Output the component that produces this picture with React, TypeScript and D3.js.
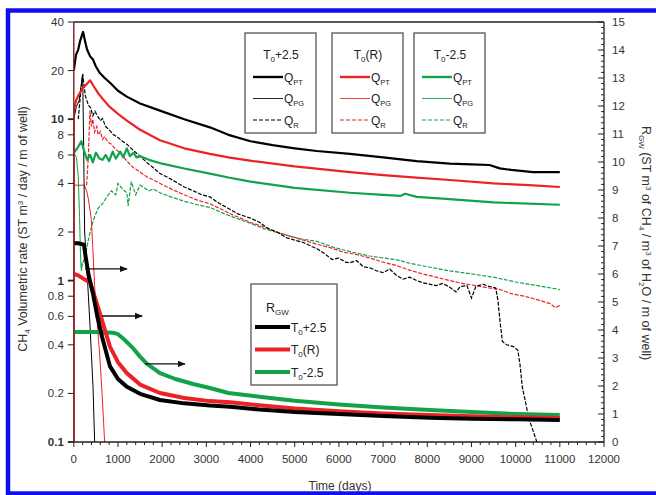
import React from "react";
import * as d3 from "d3";

type P = [number, number];

// ---- axis ticks ----
const LEFT_TICKS = [0.1, 0.2, 0.4, 0.6, 0.8, 1, 2, 4, 6, 8, 10, 20, 40];
const BOLD_TICKS = [0.1, 1, 10];
const X_MAJOR = d3.range(0, 12001, 1000);
const X_MINOR = d3.range(0, 12001, 200);
const R_MAJOR = d3.range(0, 16, 1);
const R_MINOR = d3.range(0, 15.01, 0.2);

// ---- T0+2.5 (black) ----
const warmQPT: P[] = [[0, 20], [50, 25], [100, 27], [150, 31], [210, 34.7], [260, 30], [300, 27], [370, 24.5], [435, 23.4], [500, 21.2], [590, 19.3], [700, 18], [820, 16.8], [1000, 15], [1200, 13.8], [1500, 12.5], [1950, 11.3], [2500, 10], [3080, 8.9], [3500, 8.0], [4000, 7.3], [4500, 6.9], [5000, 6.6], [5500, 6.35], [6250, 6.1], [7000, 5.8], [7760, 5.5], [8510, 5.3], [9000, 5.25], [9410, 5.2], [9640, 4.96], [9900, 4.85], [10390, 4.7], [11000, 4.7]];
const warmQPG: P[] = [[0, 10], [60, 12], [120, 13], [200, 19], [220, 8], [245, 2.0], [275, 1.5], [320, 0.9], [360, 0.57], [435, 0.22], [472, 0.1], [490, 0.08]];
const warmQR: P[] = [[100, 10], [150, 14], [200, 19], [260, 14], [330, 12.2], [380, 11.8], [430, 10.5], [480, 11.2], [525, 10.6], [600, 9.8], [650, 10.1], [720, 9.0], [800, 8.6], [900, 8.0], [1000, 7.7], [1100, 7.3], [1200, 7.0], [1350, 6.4], [1500, 5.9], [1650, 5.4], [1800, 5.0], [1950, 4.6], [2100, 4.4], [2300, 4.1], [2500, 3.8], [2700, 3.6], [2900, 3.4], [3080, 3.3], [3300, 3.0], [3500, 2.8], [3700, 2.6], [3990, 2.44], [4200, 2.3], [4400, 2.1], [4600, 2.0], [4800, 1.85], [5000, 1.78], [5200, 1.72], [5400, 1.62], [5500, 1.58], [5700, 1.45], [5850, 1.35], [6000, 1.38], [6150, 1.3], [6250, 1.29], [6400, 1.33], [6550, 1.22], [6700, 1.2], [6850, 1.15], [7000, 1.12], [7150, 1.18], [7300, 1.08], [7450, 1.02], [7600, 1.05], [7760, 1.0], [7900, 0.97], [8050, 0.95], [8200, 0.93], [8350, 0.96], [8510, 0.91], [8650, 0.85], [8750, 0.92], [8900, 0.93], [9000, 0.78], [9100, 0.92], [9260, 0.95], [9400, 0.92], [9550, 0.9], [9600, 0.75], [9650, 0.55], [9700, 0.42], [9800, 0.4], [9950, 0.39], [10050, 0.37], [10100, 0.3], [10150, 0.22], [10300, 0.14], [10480, 0.1], [10600, 0.08]];
const warmRGW: P[] = [[0, 7.1], [100, 7.1], [230, 7.05], [260, 6.7], [330, 6.0], [434, 5.3], [530, 4.5], [640, 3.75], [820, 2.7], [1000, 2.25], [1200, 1.97], [1500, 1.72], [1950, 1.5], [2500, 1.38], [3080, 1.3], [3540, 1.26], [4200, 1.16], [5000, 1.07], [6000, 1.0], [7000, 0.93], [8060, 0.87], [9000, 0.83], [10000, 0.81], [11000, 0.79]];

// ---- T0(R) (red) ----
const refQPT: P[] = [[0, 0.05], [0, 11.3], [50, 13], [100, 14], [200, 15.5], [300, 16.6], [370, 17.4], [450, 16], [550, 14.5], [660, 13.3], [800, 12], [1000, 10.8], [1200, 9.8], [1500, 8.6], [1950, 7.4], [2500, 6.6], [3080, 6.1], [3500, 5.8], [4060, 5.5], [5000, 5.1], [6250, 4.7], [7000, 4.5], [7760, 4.35], [8510, 4.2], [9500, 4.0], [10300, 3.9], [11000, 3.8]];
const refQPG: P[] = [[0, 3.9], [240, 3.9], [290, 3.6], [330, 3.2], [396, 2.4], [430, 1.6], [472, 0.92], [520, 0.6], [585, 0.35], [640, 0.2], [698, 0.1], [720, 0.09]];
const refQR: P[] = [[290, 3.9], [330, 6], [365, 11.3], [400, 9], [430, 10], [470, 8.3], [520, 9], [550, 8.0], [600, 8.4], [650, 7.5], [700, 7.8], [770, 7.2], [850, 7.0], [950, 6.5], [1050, 6.2], [1200, 5.5], [1350, 5.0], [1500, 4.7], [1650, 4.4], [1800, 4.2], [1950, 4.0], [2200, 3.7], [2500, 3.4], [2800, 3.15], [3080, 2.99], [3300, 2.8], [3600, 2.55], [3990, 2.3], [4300, 2.15], [4600, 2.0], [4900, 1.88], [5200, 1.78], [5500, 1.68], [5800, 1.6], [6100, 1.5], [6400, 1.45], [6700, 1.38], [7000, 1.3], [7300, 1.24], [7600, 1.16], [7900, 1.1], [8200, 1.05], [8510, 1.0], [8800, 0.96], [9100, 0.93], [9400, 0.9], [9650, 0.88], [9900, 0.83], [10200, 0.8], [10500, 0.76], [10780, 0.72], [10900, 0.68], [11000, 0.7]];
const refRGW: P[] = [[0, 6.0], [100, 5.95], [250, 5.8], [367, 5.7], [450, 5.3], [590, 4.6], [820, 3.4], [1000, 2.85], [1200, 2.46], [1500, 2.05], [1950, 1.75], [2500, 1.57], [3080, 1.46], [3540, 1.42], [4200, 1.31], [5000, 1.2], [6000, 1.1], [7000, 1.02], [8060, 0.96], [9000, 0.92], [10000, 0.88], [11000, 0.86]];

// ---- T0-2.5 (green) ----
const coldQPT: P[] = [[0, 6.2], [80, 6.6], [170, 7.3], [230, 6.4], [300, 5.6], [370, 6.0], [430, 5.4], [500, 6.2], [580, 5.7], [650, 5.6], [720, 6.0], [800, 5.5], [880, 6.3], [950, 5.7], [1050, 6.3], [1120, 5.8], [1200, 6.6], [1270, 5.9], [1350, 6.2], [1420, 5.8], [1500, 5.9], [1700, 5.6], [2000, 5.3], [2500, 4.95], [3080, 4.6], [3500, 4.35], [4000, 4.1], [5000, 3.75], [6250, 3.5], [7000, 3.4], [7400, 3.35], [7500, 3.45], [7760, 3.3], [8500, 3.2], [9500, 3.05], [11000, 2.95]];
const coldQPG: P[] = [[0, 6.2], [60, 5.8], [100, 4.5], [130, 2.5], [150, 1.5], [165, 1.2], [175, 1.15], [185, 1.3]];
const coldQR: P[] = [[170, 1.2], [250, 1.4], [350, 1.9], [450, 2.4], [550, 2.8], [650, 3.0], [750, 3.3], [850, 3.6], [950, 3.4], [1000, 4.0], [1100, 3.7], [1200, 3.5], [1230, 2.9], [1300, 4.1], [1400, 3.4], [1500, 3.9], [1570, 3.8], [1700, 3.6], [1800, 3.7], [1950, 3.5], [2200, 3.3], [2500, 3.1], [2800, 2.95], [3080, 2.84], [3400, 2.6], [3700, 2.42], [3990, 2.27], [4300, 2.1], [4700, 1.95], [5100, 1.82], [5500, 1.75], [5900, 1.6], [6300, 1.5], [6700, 1.42], [7000, 1.38], [7300, 1.35], [7600, 1.28], [8000, 1.22], [8500, 1.15], [9000, 1.1], [9500, 1.05], [10000, 0.98], [10500, 0.93], [11000, 0.88]];
const coldRGW: P[] = [[0, 3.93], [500, 3.93], [900, 3.9], [1000, 3.85], [1150, 3.65], [1340, 3.35], [1500, 3.05], [1650, 2.8], [1950, 2.46], [2300, 2.25], [2700, 2.07], [3080, 1.93], [3500, 1.75], [4200, 1.62], [5000, 1.47], [6000, 1.34], [7000, 1.23], [8060, 1.14], [9000, 1.07], [10000, 1.0], [11000, 0.96]];

// arrows (time start, time end, right-axis value)
const arrows: [number, number, number][] = [[255, 1205, 6.18], [640, 1545, 4.5], [1610, 2515, 2.79]];

// legend labels
const SCENARIOS = ["+2.5", "(R)", "-2.5"];
const Q_LABELS = ["PT", "PG", "R"];

const BLACK = "#000000";
const RED = "#ec2227";
const GREEN = "#12a24a";
const COLORS = [BLACK, RED, GREEN];
const FONT = "'Liberation Sans', Arial, sans-serif";

const W = 656, H = 495;
const X0 = 73.8, X1 = 604, YT = 22, YB = 442;

export default function App() {
  const x = d3.scaleLinear().domain([0, 12000]).range([X0, X1]);
  const yL = d3.scaleLog().domain([0.1, 40]).range([YB, YT]);
  const yR = d3.scaleLinear().domain([0, 15]).range([YB, YT]);
  const lineL = d3.line<P>().x(d => x(d[0])).y(d => yL(Math.max(d[1], 0.01)));
  const lineR = d3.line<P>().x(d => x(d[0])).y(d => yR(d[1]));

  const styles = [
    { w: 2.4, dash: undefined as string | undefined, op: 1 },
    { w: 1, dash: undefined as string | undefined, op: 0.85 },
    { w: 1.2, dash: "4,2", op: 1 },
  ];
  const boxX = [245, 332, 414];

  const thin = (d: P[], c: string) => <path d={lineL(d) || ""} fill="none" stroke={c} strokeWidth={1} />;
  const thick = (d: P[], c: string) => <path d={lineL(d) || ""} fill="none" stroke={c} strokeWidth={2.2} strokeLinejoin="round" />;
  const dashed = (d: P[], c: string) => <path d={lineL(d) || ""} fill="none" stroke={c} strokeWidth={1.2} strokeDasharray="4,1.5" />;
  const rgw = (d: P[], c: string) => <path d={lineR(d) || ""} fill="none" stroke={c} strokeWidth={4} strokeLinejoin="round" />;

  return (
    <svg width={W} height={H} style={{ position: "absolute", left: 0, top: 0 }} fontFamily={FONT}>
      <rect x={0} y={0} width={W} height={H} fill="white" />
      <defs>
        <clipPath id="plot">
          <rect x={X0} y={YT} width={X1 - X0} height={YB - YT} />
        </clipPath>
        <marker id="ah" viewBox="0 0 10 10" refX={9} refY={5} markerWidth={8} markerHeight={8} markerUnits="userSpaceOnUse" orient="auto">
          <path d="M0,1 L10,5 L0,9 Z" fill="#111" />
        </marker>
      </defs>

      {/* curves */}
      <g clipPath="url(#plot)">
        {dashed(coldQR, GREEN)}
        {dashed(refQR, RED)}
        {dashed(warmQR, BLACK)}
        {thin(coldQPG, GREEN)}
        {thin(refQPG, RED)}
        {thin(warmQPG, BLACK)}
        {thick(coldQPT, GREEN)}
        {thick(refQPT, RED)}
        {thick(warmQPT, BLACK)}
        {rgw(coldRGW, GREEN)}
        {rgw(refRGW, RED)}
        {rgw(warmRGW, BLACK)}
      </g>

      {arrows.map((a, i) => (
        <line key={i} x1={x(a[0])} x2={x(a[1])} y1={yR(a[2])} y2={yR(a[2])} stroke="#111" strokeWidth={1.3} markerEnd="url(#ah)" />
      ))}

      {/* frame */}
      <line x1={X0} x2={X1} y1={YT} y2={YT} stroke="#222" strokeWidth={1.6} />
      <line x1={X0} x2={X0} y1={YT} y2={YB} stroke="#7a1d1d" strokeWidth={1.4} />
      <line x1={X1} x2={X1} y1={YT} y2={YB} stroke="#222" strokeWidth={1.3} />
      <line x1={X0} x2={X1} y1={YB} y2={YB} stroke="#222" strokeWidth={1.3} />

      {/* x axis */}
      {X_MINOR.map(t => (
        <line key={"xm" + t} x1={x(t)} x2={x(t)} y1={YB} y2={YB + (t % 1000 === 0 ? 5 : 3)} stroke="#222" strokeWidth={1} />
      ))}
      {X_MAJOR.map(t => (
        <text key={"xl" + t} x={x(t)} y={463} textAnchor="middle" fontSize={11.5} fill="#333">{t}</text>
      ))}
      <text x={340} y={490} textAnchor="middle" fontSize={12} fill="#333">Time (days)</text>

      {/* left axis */}
      {LEFT_TICKS.map(v => (
        <g key={"yl" + v}>
          <line x1={X0 - 6} x2={X0} y1={yL(v)} y2={yL(v)} stroke="#222" strokeWidth={BOLD_TICKS.includes(v) ? 1.8 : 1} />
          <text x={X0 - 10} y={yL(v) + 4} textAnchor="end" fontSize={11.5} fontWeight={BOLD_TICKS.includes(v) ? "bold" : "normal"} fill="#333">{v}</text>
        </g>
      ))}
      <text transform="translate(27,229) rotate(-90)" textAnchor="middle" fontSize={12.5} fill="#333">
        CH<tspan dy={3} fontSize={8}>4</tspan><tspan dy={-3}> Volumetric rate (ST m</tspan><tspan dy={-4} fontSize={8}>3</tspan><tspan dy={4}> / day / m of well)</tspan>
      </text>

      {/* right axis */}
      {R_MINOR.map((v, i) => (
        <line key={"rm" + i} x1={X1 - (i % 5 === 0 ? 6 : 3)} x2={X1} y1={yR(v)} y2={yR(v)} stroke="#222" strokeWidth={1} />
      ))}
      {R_MAJOR.map(v => (
        <text key={"rl" + v} x={612} y={yR(v) + 4} fontSize={11.5} fill="#333">{v}</text>
      ))}
      <text transform="translate(642,243) rotate(90)" textAnchor="middle" fontSize={12.5} fill="#333">
        R<tspan dy={3} fontSize={8}>GW</tspan><tspan dy={-3}> (ST m</tspan><tspan dy={-4} fontSize={8}>3</tspan><tspan dy={4}> of CH</tspan><tspan dy={3} fontSize={8}>4</tspan><tspan dy={-3}> / m</tspan><tspan dy={-4} fontSize={8}>3</tspan><tspan dy={4}> of H</tspan><tspan dy={3} fontSize={8}>2</tspan><tspan dy={-3}>O / m of well)</tspan>
      </text>

      {/* Q legends */}
      {SCENARIOS.map((s, k) => {
        const bx = boxX[k];
        const color = COLORS[k];
        return (
          <g key={"ql" + k}>
            <rect x={bx} y={33} width={71} height={100} fill="white" stroke="#555" strokeWidth={1.3} />
            <text x={bx + 36} y={59} textAnchor="middle" fontSize={12} fill="#222">
              T<tspan dy={3} fontSize={8}>0</tspan><tspan dy={-3}>{s}</tspan>
            </text>
            {Q_LABELS.map((lab, i) => (
              <g key={i}>
                <line x1={bx + 8} x2={bx + 38} y1={77 + i * 21.5} y2={77 + i * 21.5} stroke={color} strokeWidth={styles[i].w} strokeDasharray={styles[i].dash} opacity={styles[i].op} />
                <text x={bx + 39} y={81.5 + i * 21.5} fontSize={12} fill="#222">Q<tspan dy={3} fontSize={7.5}>{lab}</tspan></text>
              </g>
            ))}
          </g>
        );
      })}

      {/* RGW legend */}
      <rect x={251} y={284} width={86} height={101} fill="white" stroke="#555" strokeWidth={1.3} />
      <text x={266} y={312} fontSize={12.5} fill="#222">R<tspan dy={3} fontSize={8}>GW</tspan></text>
      {SCENARIOS.map((s, i) => (
        <g key={"rg" + i}>
          <line x1={255} x2={290} y1={327 + i * 22.5} y2={327 + i * 22.5} stroke={COLORS[i]} strokeWidth={4} />
          <text x={291} y={331.5 + i * 22.5} fontSize={12} fill="#222">T<tspan dy={3} fontSize={8}>0</tspan><tspan dy={-3}>{s}</tspan></text>
        </g>
      ))}

      {/* blue outer frame */}
      <rect x={8} y={10.5} width={700} height={483} fill="none" stroke="#1010ee" strokeWidth={4.5} />
    </svg>
  );
}
